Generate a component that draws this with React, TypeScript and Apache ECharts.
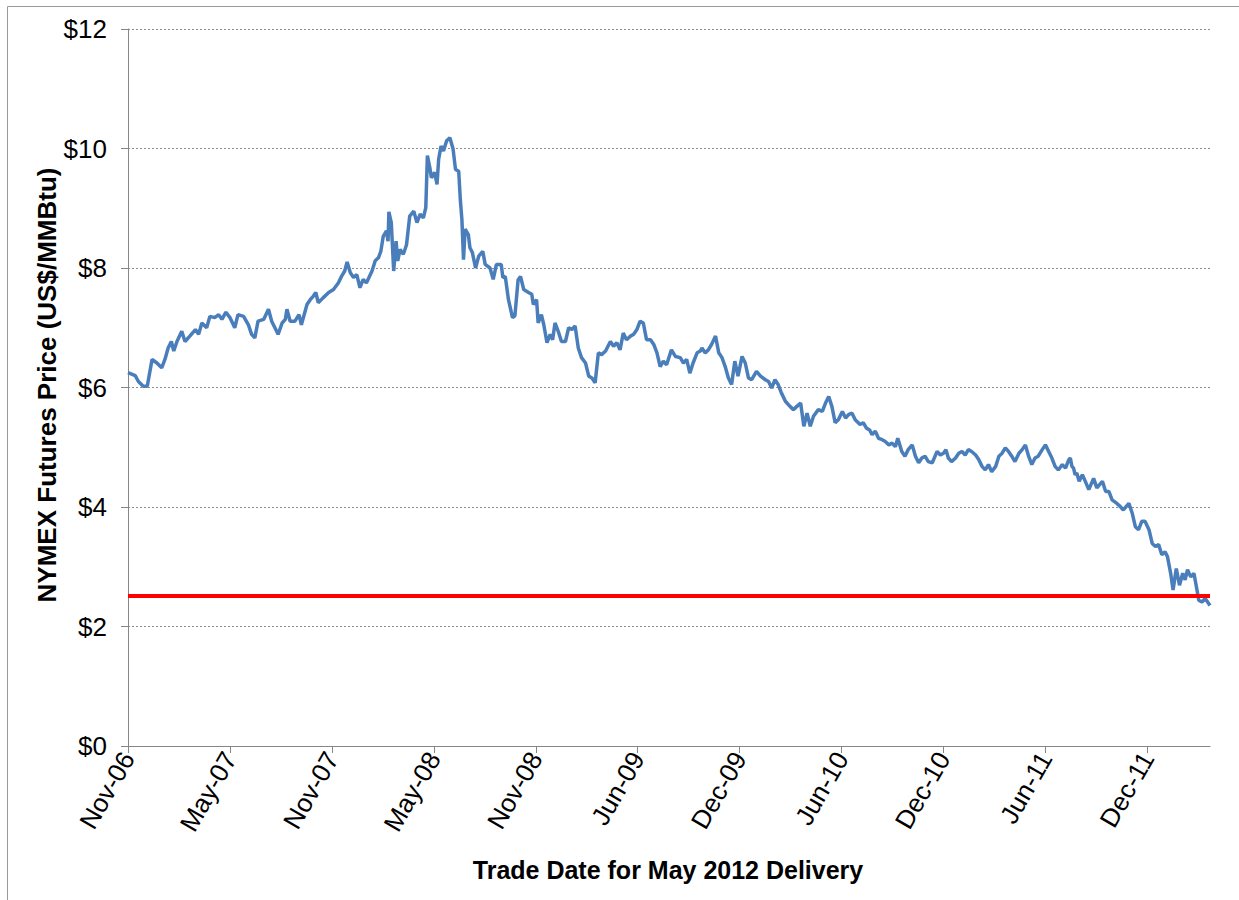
import React, { useEffect, useRef } from "react";
import * as echarts from "echarts";

// Category labels shown on the x axis (one every TICK_STEP trading days)
const tickLabels = ["Nov-06", "May-07", "Nov-07", "May-08", "Nov-08", "Jun-09", "Dec-09", "Jun-10", "Dec-10", "Jun-11", "Dec-11"];
const TICK_STEP = 127;
const LAST_DAY = 1348;

// Trading-day index (0 = first trade date) and settle price, US$/MMBtu
const tradeDay = [
  0, 9, 13, 19, 24, 30, 36, 42, 46, 50, 54, 57, 61, 67, 71, 77, 84, 88, 92, 98,
  102, 108, 113, 117, 122, 127, 133, 137, 144, 150, 154, 158, 162, 169, 175, 179, 183, 187, 192, 196,
  198, 202, 208, 213, 216, 223, 227, 231, 234, 237, 243, 250, 256, 262, 266, 270, 273, 277, 281, 285,
  289, 293, 297, 304, 308, 312, 315, 318, 322, 324, 325, 328, 331, 334, 336, 339, 343, 347, 351, 356,
  360, 364, 368, 371, 373, 376, 378, 382, 385, 387, 390, 393, 397, 401, 405, 408, 412, 414, 416, 418,
  420, 424, 426, 429, 433, 437, 442, 445, 451, 455, 459, 465, 467, 470, 474, 479, 482, 486, 489, 493,
  499, 503, 505, 509, 511, 515, 518, 522, 526, 529, 532, 536, 540, 545, 549, 553, 557, 561, 565, 570,
  574, 578, 582, 586, 590, 595, 601, 605, 609, 613, 617, 621, 626, 630, 634, 638, 642, 646, 651, 655,
  659, 663, 667, 671, 677, 682, 688, 692, 696, 700, 704, 709, 713, 715, 719, 723, 727, 732, 736, 740,
  744, 748, 752, 756, 760, 765, 769, 773, 777, 783, 788, 794, 798, 802, 806, 810, 814, 819, 825, 829,
  833, 838, 842, 846, 850, 854, 860, 865, 869, 873, 877, 881, 885, 890, 894, 898, 902, 906, 912, 916,
  920, 924, 927, 931, 935, 939, 943, 948, 952, 956, 959, 964, 968, 972, 977, 981, 985, 989, 993, 997,
  1002, 1008, 1012, 1016, 1019, 1022, 1026, 1031, 1035, 1039, 1043, 1047, 1051, 1056, 1060, 1064, 1068, 1072, 1076, 1081,
  1085, 1089, 1093, 1097, 1101, 1105, 1110, 1114, 1118, 1122, 1126, 1130, 1134, 1139, 1143, 1147, 1151, 1155, 1159, 1164,
  1168, 1172, 1174, 1176, 1178, 1180, 1182, 1185, 1189, 1192, 1197, 1203, 1207, 1214, 1218, 1222, 1226, 1232, 1236, 1240,
  1247, 1251, 1255, 1259, 1263, 1267, 1272, 1276, 1280, 1284, 1288, 1292, 1295, 1299, 1302, 1306, 1310, 1314, 1317, 1320,
  1324, 1328, 1331, 1334, 1338, 1342, 1348,
];
const price = [
  6.25, 6.2, 6.1, 6.02, 6.02, 6.47, 6.41, 6.33, 6.47, 6.66, 6.77, 6.61, 6.77, 6.94, 6.77, 6.86, 6.97, 6.89, 7.08, 7.0,
  7.19, 7.17, 7.22, 7.14, 7.26, 7.17, 7.0, 7.22, 7.19, 7.05, 6.89, 6.83, 7.11, 7.14, 7.31, 7.11, 7.0, 6.89, 7.08, 7.14,
  7.31, 7.11, 7.11, 7.22, 7.05, 7.39, 7.47, 7.53, 7.59, 7.42, 7.5, 7.59, 7.64, 7.75, 7.86, 7.95, 8.1, 7.92, 7.84, 7.89,
  7.67, 7.81, 7.75, 7.95, 8.12, 8.17, 8.28, 8.53, 8.62, 8.45, 8.94, 8.76, 7.95, 8.45, 8.12, 8.31, 8.23, 8.39, 8.87, 8.95,
  8.76, 8.9, 8.84, 9.01, 9.88, 9.68, 9.51, 9.6, 9.4, 9.82, 10.04, 9.96, 10.13, 10.18, 9.99, 9.65, 9.62, 9.15, 8.81, 8.14,
  8.65, 8.56, 8.34, 8.26, 8.0, 8.2, 8.28, 8.06, 8.0, 7.81, 8.06, 8.06, 7.84, 7.86, 7.47, 7.17, 7.2, 7.8, 7.86, 7.64,
  7.59, 7.56, 7.39, 7.47, 7.08, 7.22, 7.05, 6.75, 6.89, 6.8, 7.08, 6.94, 6.77, 6.77, 7.0, 6.97, 7.03, 6.66, 6.5, 6.41,
  6.19, 6.16, 6.08, 6.58, 6.55, 6.61, 6.77, 6.69, 6.75, 6.63, 6.91, 6.8, 6.86, 6.89, 6.97, 7.11, 7.08, 6.8, 6.8, 6.72,
  6.58, 6.35, 6.44, 6.38, 6.63, 6.52, 6.5, 6.41, 6.47, 6.24, 6.41, 6.58, 6.61, 6.66, 6.58, 6.63, 6.72, 6.86, 6.58, 6.5,
  6.35, 6.16, 6.05, 6.44, 6.19, 6.52, 6.41, 6.16, 6.13, 6.27, 6.19, 6.13, 6.1, 5.99, 6.13, 6.05, 5.91, 5.77, 5.68, 5.63,
  5.68, 5.74, 5.35, 5.57, 5.35, 5.52, 5.63, 5.6, 5.74, 5.85, 5.68, 5.41, 5.46, 5.6, 5.49, 5.55, 5.57, 5.46, 5.38, 5.41,
  5.32, 5.29, 5.21, 5.27, 5.15, 5.13, 5.1, 5.04, 5.07, 5.01, 5.15, 4.93, 4.85, 4.96, 5.04, 4.85, 4.74, 4.82, 4.85, 4.76,
  4.74, 4.93, 4.87, 4.9, 4.96, 4.82, 4.76, 4.82, 4.9, 4.93, 4.87, 4.96, 4.93, 4.87, 4.79, 4.68, 4.62, 4.71, 4.59, 4.68,
  4.85, 4.9, 4.99, 4.93, 4.85, 4.76, 4.9, 4.96, 5.04, 4.85, 4.71, 4.82, 4.85, 4.96, 5.04, 4.93, 4.82, 4.68, 4.62, 4.71,
  4.65, 4.79, 4.82, 4.68, 4.65, 4.54, 4.57, 4.43, 4.54, 4.45, 4.29, 4.48, 4.32, 4.43, 4.26, 4.26, 4.12, 4.06, 4.01, 3.95,
  4.06, 3.9, 3.67, 3.62, 3.76, 3.76, 3.62, 3.39, 3.34, 3.37, 3.2, 3.25, 3.17, 2.89, 2.61, 2.97, 2.69, 2.89, 2.78, 2.95,
  2.83, 2.89, 2.67, 2.44, 2.41, 2.47, 2.35,
];
// Horizontal reference price level (red line)
const referencePrice = 2.51;

export default function App() {
  const ref = useRef<HTMLDivElement>(null);
  useEffect(() => {
    if (!ref.current) return;
    const chart = echarts.init(ref.current, null, { renderer: "svg" });
    const tickPositions = tickLabels.map((_, i) => i * TICK_STEP);
    const lineData = tradeDay.map((d, i) => [d, price[i]]);
    const font = "'Liberation Sans', Arial, sans-serif";
    chart.setOption({
      animation: false,
      backgroundColor: "#fff",
      grid: { left: 128, right: 29, top: 29, bottom: 154, containLabel: false },
      xAxis: {
        type: "value",
        min: 0,
        max: LAST_DAY,
        axisLine: { show: true, onZero: false, lineStyle: { color: "#868686", width: 1 } },
        axisTick: { show: true, customValues: tickPositions, length: 7, lineStyle: { color: "#868686" } },
        axisLabel: {
          customValues: tickPositions,
          formatter: (v: number) => tickLabels[Math.round(v / TICK_STEP)] ?? "",
          rotate: 60,
          margin: 8,
          fontFamily: font,
          fontSize: 26,
          color: "#000",
        },
        splitLine: { show: false },
      },
      yAxis: {
        type: "value",
        min: 0,
        max: 12,
        interval: 2,
        axisLine: { show: true, lineStyle: { color: "#868686", width: 1 } },
        axisTick: { show: true, length: 7, inside: false, lineStyle: { color: "#868686" } },
        axisLabel: {
          formatter: (v: number) => "$" + v,
          margin: 21,
          fontFamily: font,
          fontSize: 26,
          color: "#000",
        },
        splitLine: { show: true, lineStyle: { color: "#8c8c8c", width: 1, type: [2, 2] } },
      },
      graphic: [
        {
          type: "rect",
          silent: true,
          shape: { x: 7.5, y: 6.5, width: 1240, height: 900 },
          style: { fill: "none", stroke: "#9a9a9a", lineWidth: 1 },
        },
        {
          type: "text",
          x: 47,
          y: 385,
          rotation: Math.PI / 2,
          style: {
            text: "NYMEX Futures Price (US$/MMBtu)",
            fontFamily: font,
            fontWeight: "bold",
            fontSize: 26,
            fill: "#000",
            align: "center",
            verticalAlign: "middle",
          },
        },
        {
          type: "text",
          x: 668,
          y: 870,
          style: {
            text: "Trade Date for May 2012 Delivery",
            fontFamily: font,
            fontWeight: "bold",
            fontSize: 25,
            fill: "#000",
            align: "center",
            verticalAlign: "middle",
          },
        },
      ],
      series: [
        {
          name: "NYMEX May 2012 futures",
          type: "line",
          data: lineData,
          showSymbol: false,
          symbol: "none",
          lineStyle: { color: "#4A7EBB", width: 3.5 },
          z: 2,
        },
        {
          name: "Reference price",
          type: "line",
          data: [[0, referencePrice], [LAST_DAY, referencePrice]],
          showSymbol: false,
          symbol: "none",
          lineStyle: { color: "#FF0000", width: 4 },
          z: 3,
        },
      ],
    });
    return () => chart.dispose();
  }, []);
  return (
    <div
      ref={ref}
      style={{ position: "fixed", left: 0, top: 0, width: 1239, height: 900, background: "#fff" }}
    />
  );
}
